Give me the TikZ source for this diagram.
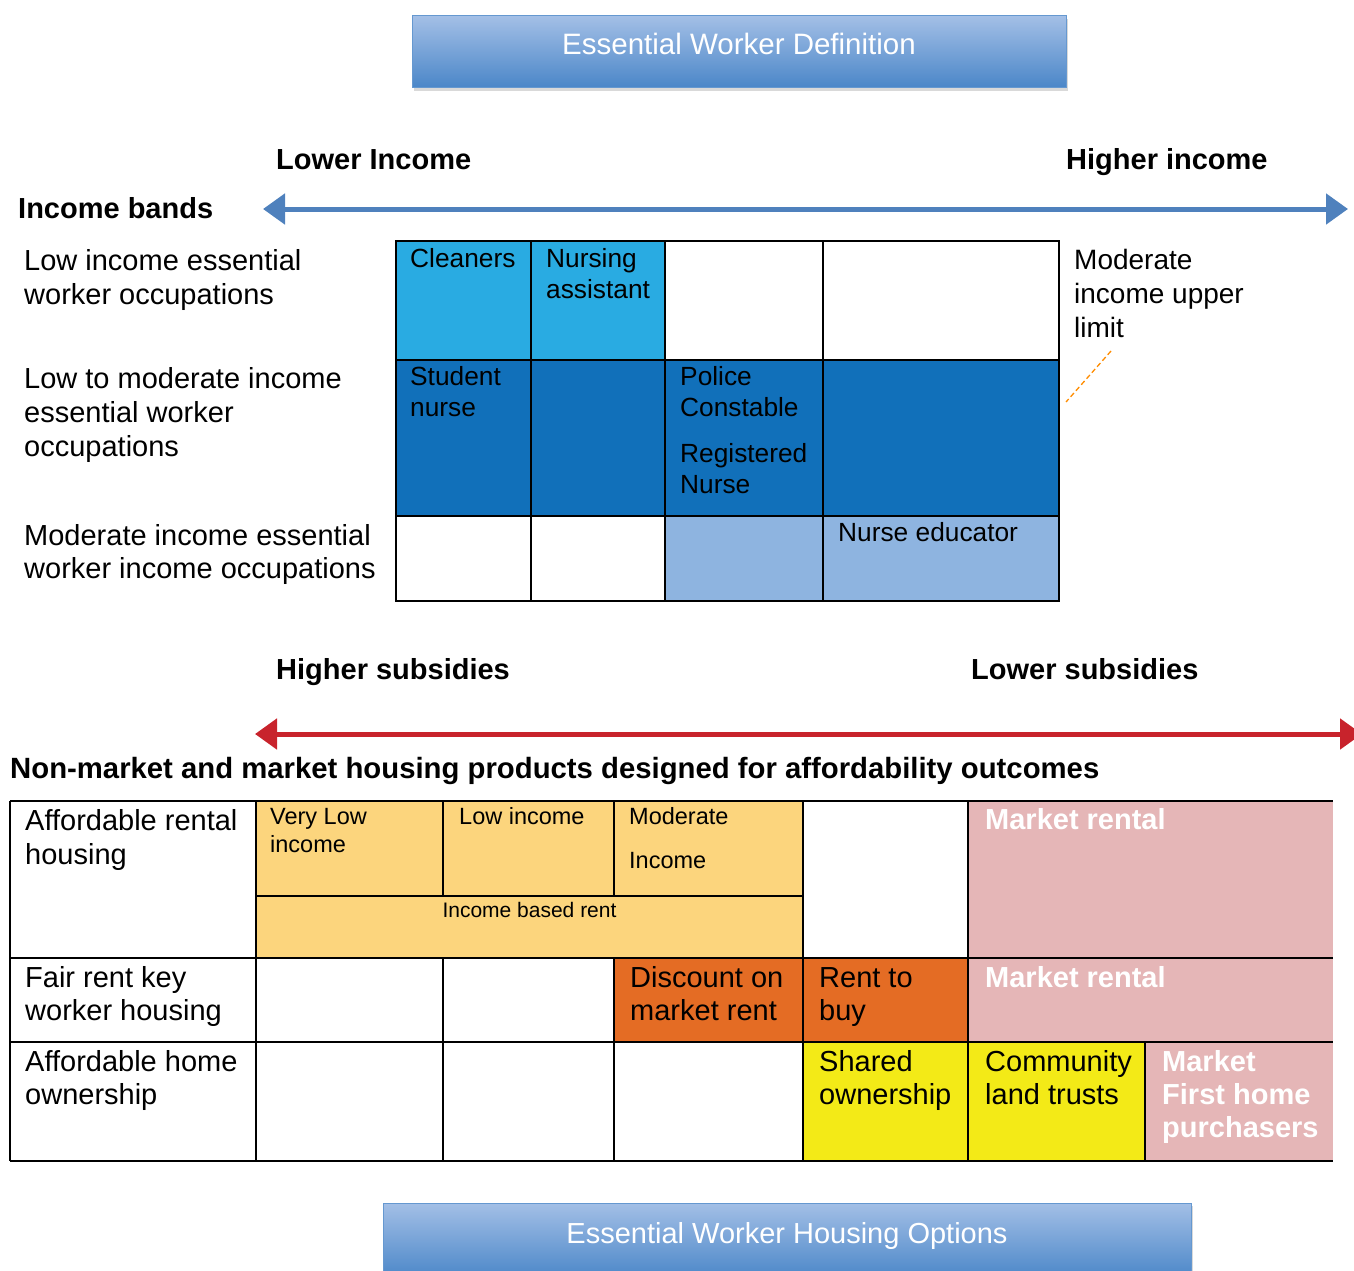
\documentclass[tikz,border=0pt]{standalone}
\usepackage{fontspec}
\setmainfont{Liberation Sans}
\usetikzlibrary{arrows.meta,shadows}
\definecolor{CB}{HTML}{4F81BD}
\definecolor{CR}{HTML}{C8232C}
\definecolor{CL}{HTML}{29ABE2}
\definecolor{CD}{HTML}{1170BA}
\definecolor{CS}{HTML}{8EB4E0}
\definecolor{CO}{HTML}{FCD57D}
\definecolor{CE}{HTML}{E46C24}
\definecolor{CP}{HTML}{E5B6B7}
\definecolor{CY}{HTML}{F3EA17}
\definecolor{CT}{HTML}{A3BFE6}
\definecolor{CU}{HTML}{4A86C8}
\tikzset{
	hdr/.style  = {draw=CU!85, top color=CT, bottom color=CU, line width=1pt,
		text=white, inner xsep=0pt, inner ysep=0pt, text depth=#1,
		drop shadow={shadow xshift=2pt, shadow yshift=-3pt, opacity=0.3}},
	lbl/.style  = {anchor=base west, align=left, inner sep=0pt,
		font=\fontsize{29}{34}\selectfont},
	cl/.style   = {anchor=base west, align=left, inner sep=0pt,
		font=\fontsize{26.3}{31}\selectfont},
	bh/.style   = {anchor=base west, inner sep=0pt,
		font=\fontsize{29}{34}\selectfont\bfseries},
	mk/.style   = {lbl, text=white, font=\fontsize{29}{33}\selectfont\bfseries},
	gl/.style   = {line width=2pt},
	ar/.style   = {{Triangle[width=30pt,length=22pt]}-{Triangle[width=30pt,length=22pt]},
		line width=5pt, #1},
}

\begin{document}
\begin{tikzpicture}[x=1pt, y=-1pt]
	
	\clip (0,0) rectangle (1354,1271);
	
	%%═══════════════════════════════════════════════════════════════════
	%% TITLE BOX + INCOME AXIS
	%%   (multi-line labels sit on the baseline of their last line)
	%%═══════════════════════════════════════════════════════════════════
	\node[hdr=33pt, minimum width=654pt, text height=39pt,
	font=\fontsize{29.5}{34}\selectfont] (defbox) at (739,52) {Essential Worker Definition};
	
	\node[bh] (lowinc)  at (276,169)  {Lower Income};
	\node[bh] (highinc) at (1066,169) {Higher income};
	\node[bh] (bands)   at (18,218)   {Income bands};
	
	\coordinate (incL) at (263,209);
	\coordinate (incR) at (1348,209);
	\draw[ar=CB] (incL) -- (incR);
	
	%% occupation rows (left)
	\node[lbl] (occA) at (24,304) {Low income essential\\worker occupations};
	\node[lbl] (occB) at (24,456) {Low to moderate income\\essential worker\\occupations};
	\node[lbl, font=\fontsize{29}{33}\selectfont] (occC) at (24,578)
	{Moderate income essential\\worker income occupations};
	
	%%═══════════════════════════════════════════════════════════════════
	%% OCCUPATION GRID   cols 396 | 531 | 665 | 823 | 1059
	%%                   rows 241 | 360 | 516 | 601
	%%═══════════════════════════════════════════════════════════════════
	\fill[CL] (396,241) rectangle (665,360);
	\fill[CD] (396,360) rectangle (1059,516);
	\fill[CS] (665,516) rectangle (1059,601);
	\draw[gl] (396,241) rectangle (1059,601);
	\draw[gl] (396,360) -- (1059,360);
	\draw[gl] (396,516) -- (1059,516);
	\foreach \cx in {531,665,823}
	\draw[gl] (\cx,241) -- (\cx,601);
	
	\node[cl] (cleaners) at (410,267) {Cleaners};
	\node[cl] (nursass)  at (546,298) {Nursing\\assistant};
	\node[cl] (student)  at (410,416) {Student\\nurse};
	\node[cl] (police)   at (680,416) {Police\\Constable};
	\node[cl] (regnurse) at (680,493) {Registered\\Nurse};
	\node[cl] (educator) at (838,541) {Nurse educator};
	
	%% upper limit note
	\node[lbl, font=\fontsize{28}{34}\selectfont] (limit) at (1074,337)
	{Moderate\\income upper\\limit};
	\coordinate (limA) at (1111,351);
	\coordinate (limB) at (1066,402);
	\draw[color=orange!90!yellow, line width=1.3pt, dash pattern=on 5pt off 3pt] (limA) -- (limB);
	
	%%═══════════════════════════════════════════════════════════════════
	%% SUBSIDY AXIS
	%%═══════════════════════════════════════════════════════════════════
	\node[bh] (highsub) at (276,679) {Higher subsidies};
	\node[bh] (lowsub)  at (971,679) {Lower subsidies};
	
	\coordinate (subL) at (255,734);
	\coordinate (subR) at (1362,734);
	\draw[ar=CR] (subL) -- (subR);
	
	\node[bh, font=\fontsize{29.3}{34}\selectfont\bfseries] (products) at (10,778)
	{Non-market and market housing products designed for affordability outcomes};
	
	%%═══════════════════════════════════════════════════════════════════
	%% HOUSING GRID   cols 10 | 256 | 443 | 614 | 803 | 968 | (1145) | 1333
	%%                rows 801 | (896) | 958 | 1042 | 1161
	%%═══════════════════════════════════════════════════════════════════
	\fill[CO] (256,801)  rectangle (803,958);
	\fill[CP] (968,801)  rectangle (1333,1042);
	\fill[CE] (614,958)  rectangle (968,1042);
	\fill[CY] (803,1042) rectangle (1145,1161);
	\fill[CP] (1145,1042) rectangle (1333,1161);
	
	\foreach \ry in {801,958,1042,1161}
	\draw[gl] (10,\ry) -- (1333,\ry);
	\draw[gl] (256,896) -- (803,896);
	\foreach \cx in {10,256,803,968}
	\draw[gl] (\cx,801) -- (\cx,1161);
	\foreach \cx in {443,614}{
		\draw[gl] (\cx,801) -- (\cx,896);
		\draw[gl] (\cx,958) -- (\cx,1161);
	}
	\draw[gl] (1145,1042) -- (1145,1161);
	
	%% row headings
	\node[lbl] (rental)  at (25,864)  {Affordable rental\\housing};
	\node[lbl, font=\fontsize{29}{33}\selectfont] (fair)    at (25,1020) {Fair rent key\\worker housing};
	\node[lbl, font=\fontsize{29}{33}\selectfont] (ownhead) at (25,1104) {Affordable home\\ownership};
	
	%% affordable rental row
	\node[cl, font=\fontsize{23.5}{28}\selectfont] (vlow) at (270,852) {Very Low\\income};
	\node[cl, font=\fontsize{23.5}{28}\selectfont] (low)  at (459,824) {Low income};
	\node[cl, font=\fontsize{23.5}{44}\selectfont] (mod)  at (629,868) {Moderate\\Income};
	\node[anchor=base, inner sep=0pt, font=\fontsize{21}{25}\selectfont] (ibr) at (529.5,917)
	{Income based rent};
	\node[mk] (mktA) at (985,829) {Market rental};
	
	%% fair rent row
	\node[lbl, font=\fontsize{29}{33}\selectfont] (discount) at (630,1020) {Discount on\\market rent};
	\node[lbl, font=\fontsize{29}{33}\selectfont] (rtb)      at (819,1020) {Rent to\\buy};
	\node[mk] (mktB) at (985,987) {Market rental};
	
	%% ownership row
	\node[lbl, font=\fontsize{29}{33}\selectfont] (shared) at (819,1104) {Shared\\ownership};
	\node[lbl, font=\fontsize{29}{33}\selectfont] (clt)    at (985,1104) {Community\\land trusts};
	\node[mk] (mktC) at (1162,1137) {Market\\First home\\purchasers};
	
	%%═══════════════════════════════════════════════════════════════════
	%% FOOTER BOX
	%%═══════════════════════════════════════════════════════════════════
	\node[hdr=36pt, minimum width=808pt, text height=40pt,
	font=\fontsize{29}{34}\selectfont] (optbox) at (787,1241) {Essential Worker Housing Options};
	
\end{tikzpicture}
\end{document}
